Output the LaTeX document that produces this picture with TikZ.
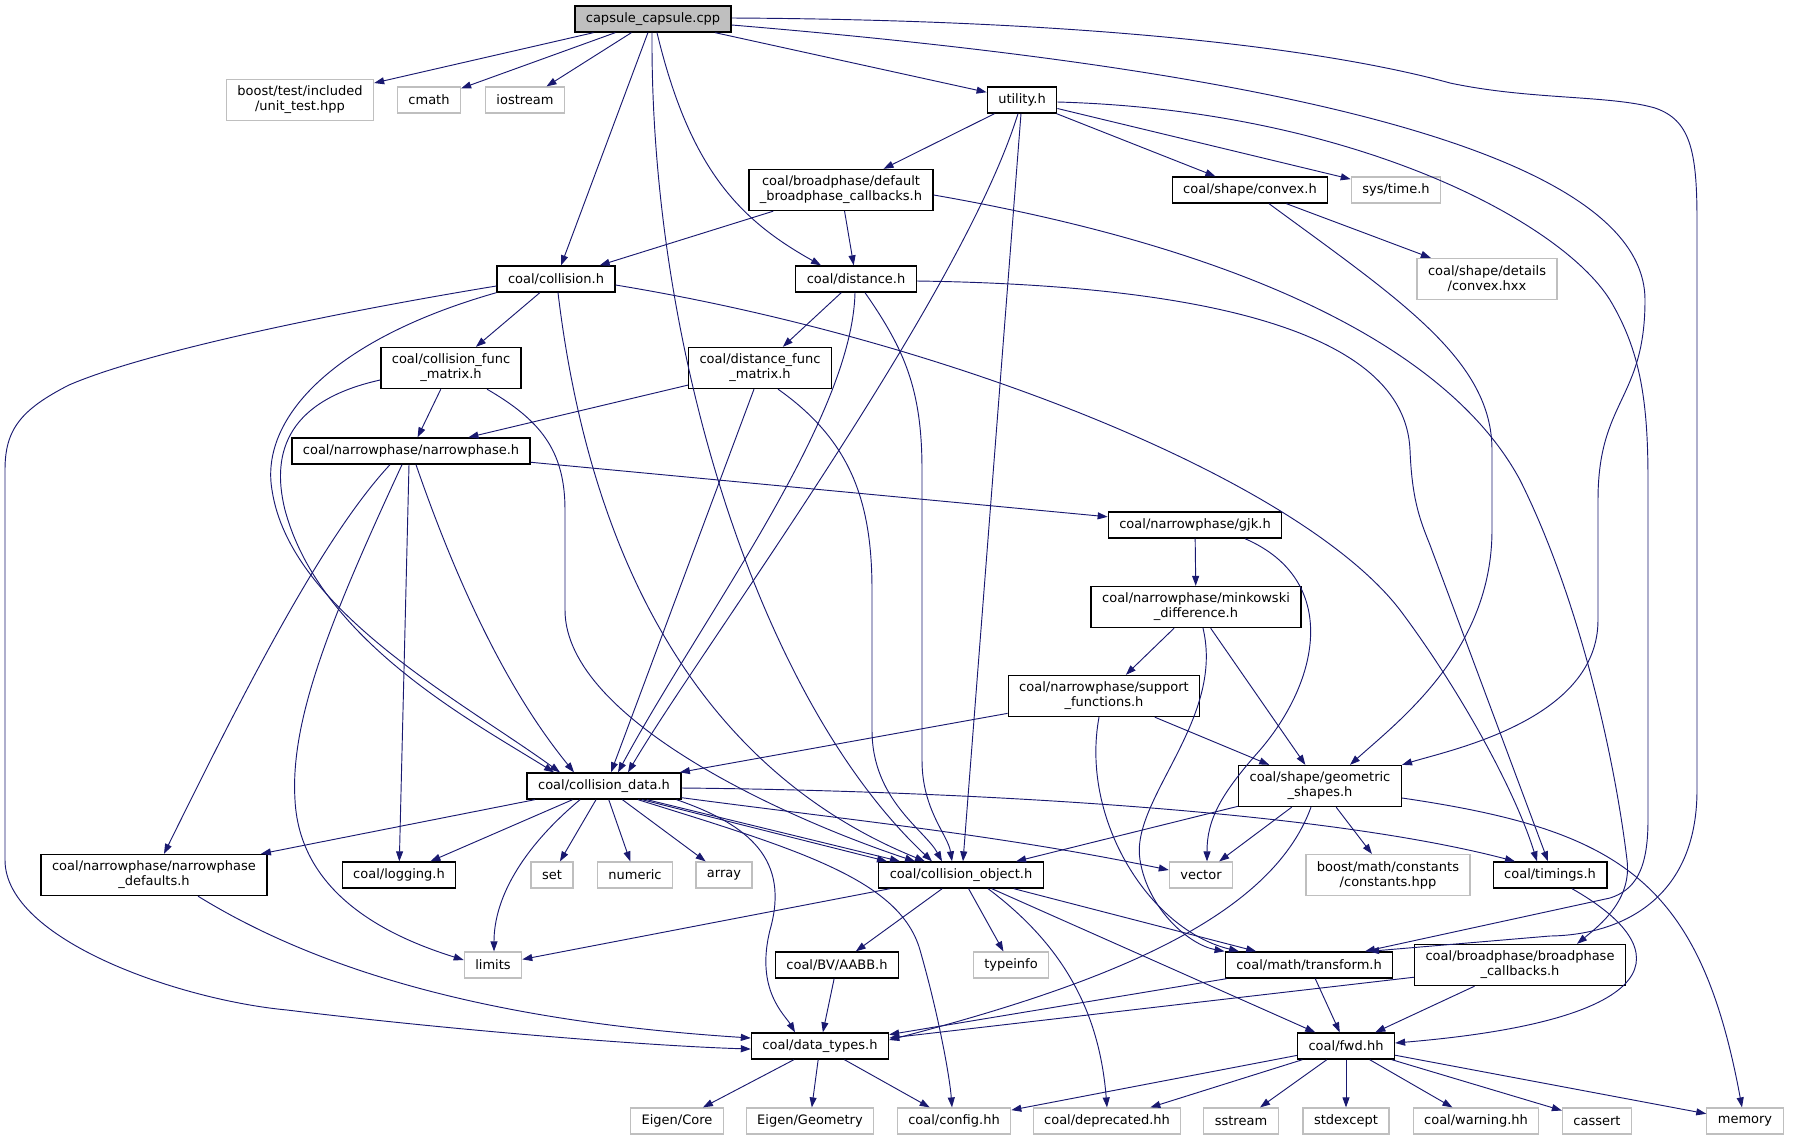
\documentclass[tikz,border=0pt]{standalone}
\usepackage{fontspec}
\setmainfont{DejaVu Sans}
\usetikzlibrary{arrows.meta, calc}
\definecolor{edgeblue}{RGB}{25,25,112}
\definecolor{sysgray}{RGB}{191,191,191}
\tikzset{
  hdrnode/.style = {rectangle, draw=black, line width=1pt, fill=white, align=center, inner xsep=8.25pt, inner ysep=1pt, minimum height=19.5pt, font=\fontsize{9.75}{11.25}\selectfont},
  sysnode/.style = {hdrnode, draw=sysgray, line width=0.9pt},
  rootnode/.style = {hdrnode, fill=sysgray},
  twoline/.style = {minimum height=30.75pt},
  inc/.style = {draw=edgeblue, line width=0.7pt, -{Triangle[length=7.5pt,width=5.25pt]}}
}
\begin{document}
\begin{tikzpicture}[x=0.75pt, y=-0.75pt]
    \useasboundingbox (0,0) rectangle (1793,1140);
    \node[rootnode] (capsule) at (653,19) {capsule\_capsule.cpp};
    \node[sysnode, twoline] (boost) at (300,100) {boost/test/included\\/unit\_test.hpp};
    \node[sysnode] (cmath) at (429,100) {cmath};
    \node[sysnode] (iostream) at (525,100) {iostream};
    \node[hdrnode] (utility) at (1022,100) {utility.h};
    \node[hdrnode, twoline] (defcb) at (841,190) {coal/broadphase/default\\\_broadphase\_callbacks.h};
    \node[hdrnode] (convex) at (1250,190) {coal/shape/convex.h};
    \node[sysnode] (systime) at (1396,190) {sys/time.h};
    \node[sysnode, twoline] (convexhxx) at (1487,279) {coal/shape/details\\/convex.hxx};
    \node[hdrnode] (collision) at (556,279) {coal/collision.h};
    \node[hdrnode] (distance) at (856,279) {coal/distance.h};
    \node[hdrnode, twoline] (collfunc) at (451,368) {coal/collision\_func\\\_matrix.h};
    \node[hdrnode, twoline] (distfunc) at (760,368) {coal/distance\_func\\\_matrix.h};
    \node[hdrnode] (narrow) at (411,451) {coal/narrowphase/narrowphase.h};
    \node[hdrnode] (gjk) at (1195,525) {coal/narrowphase/gjk.h};
    \node[hdrnode, twoline] (mink) at (1196,607) {coal/narrowphase/minkowski\\\_difference.h};
    \node[hdrnode, twoline] (support) at (1104,696) {coal/narrowphase/support\\\_functions.h};
    \node[hdrnode] (colldata) at (604,786) {coal/collision\_data.h};
    \node[hdrnode, twoline] (geom) at (1320,786) {coal/shape/geometric\\\_shapes.h};
    \node[hdrnode, twoline] (npdef) at (154,875) {coal/narrowphase/narrowphase\\\_defaults.h};
    \node[hdrnode] (logging) at (399,875) {coal/logging.h};
    \node[sysnode] (set) at (552,875) {set};
    \node[sysnode] (numeric) at (635,875) {numeric};
    \node[sysnode] (array) at (724,875) {array};
    \node[hdrnode] (collobj) at (961,875) {coal/collision\_object.h};
    \node[sysnode] (vector) at (1201,875) {vector};
    \node[sysnode, twoline] (constants) at (1388,875) {boost/math/constants\\/constants.hpp};
    \node[hdrnode] (timings) at (1550,875) {coal/timings.h};
    \node[sysnode] (limits) at (493,965) {limits};
    \node[hdrnode] (aabb) at (837,965) {coal/BV/AABB.h};
    \node[sysnode] (typeinfo) at (1011,965) {typeinfo};
    \node[hdrnode] (transform) at (1309,965) {coal/math/transform.h};
    \node[hdrnode, twoline] (bpcb) at (1520,965) {coal/broadphase/broadphase\\\_callbacks.h};
    \node[hdrnode] (datatypes) at (820,1046) {coal/data\_types.h};
    \node[hdrnode] (fwd) at (1346,1046) {coal/fwd.hh};
    \node[sysnode] (eigencore) at (677,1121) {Eigen/Core};
    \node[sysnode] (eigengeom) at (810,1121) {Eigen/Geometry};
    \node[sysnode] (config) at (954,1121) {coal/config.hh};
    \node[sysnode] (deprecated) at (1107,1121) {coal/deprecated.hh};
    \node[sysnode] (sstream) at (1241,1121) {sstream};
    \node[sysnode] (stdexcept) at (1346,1121) {stdexcept};
    \node[sysnode] (warning) at (1476,1121) {coal/warning.hh};
    \node[sysnode] (cassert) at (1597,1121) {cassert};
    \node[sysnode] (memory) at (1745,1121) {memory};

    % capsule_capsule.cpp
    \draw[inc] (capsule) -- (boost);
    \draw[inc] (capsule) -- (cmath);
    \draw[inc] (capsule) -- (iostream);
    \draw[inc] (capsule) -- (collision);
    \draw[inc] (capsule) -- (utility);
    \draw[inc] ($(capsule.south)+(-1,0)$) .. controls (650,350) and (760,700) .. ($(collobj.north)+(-29,0)$);
    \draw[inc] ($(capsule.south)+(4,0)$) .. controls (690,170) and (740,220) .. ($(distance.north)+(-35,0)$);
    \draw[inc] ($(capsule.east)+(0,6)$) .. controls (1150,60) and (1645,130) .. (1645,300) .. controls (1645,400) and (1598,400) .. (1598,500) -- (1598,620) .. controls (1598,720) and (1450,750) .. (geom.north east);
    \draw[inc] ($(capsule.east)+(0,-1)$) .. controls (1100,20) and (1330,50) .. (1450,83) .. controls (1530,100) and (1610,95) .. (1655,108) .. controls (1690,120) and (1697,150) .. (1697,220) -- (1697,790) .. controls (1697,900) and (1620,935) .. (1550,936) -- ($(transform.north)+(60,0)$);

    % utility.h
    \draw[inc] (utility) -- (defcb);
    \draw[inc] (utility) -- (convex);
    \draw[inc] (utility) -- (systime);
    \draw[inc] ($(utility.south)+(-4,0)$) .. controls (960,300) and (700,650) .. ($(colldata.north)+(24,0)$);
    \draw[inc] ($(utility.south)+(-1,0)$) -- ($(collobj.north)+(2,0)$);
    \draw[inc] ($(utility.east)+(0,2)$) .. controls (1350,110) and (1560,220) .. (1610,300) .. controls (1640,350) and (1648,400) .. (1648,480) -- (1648,820) .. controls (1648,870) and (1635,890) .. (1610,898) -- ($(transform.north)+(56,0)$);

    % default broadphase callbacks, convex
    \draw[inc] (defcb) -- (collision);
    \draw[inc] (defcb) -- (distance);
    \draw[inc] ($(defcb.east)+(0,5)$) .. controls (1250,250) and (1450,350) .. (1520,480) .. controls (1580,600) and (1615,760) .. (1627,860) .. controls (1632,900) and (1600,925) .. ($(bpcb.north)+(57,0)$);
    \draw[inc] (convex) -- (convexhxx);
    \draw[inc] ($(convex.south)+(19,0)$) .. controls (1400,300) and (1492,360) .. (1492,450) -- (1492,530) .. controls (1492,650) and (1400,720) .. ($(geom.north)+(30,0)$);

    % collision.h
    \draw[inc] (collision) -- (collfunc);
    \draw[inc] (collision.south west) .. controls (330,340) and (260,420) .. (272,490) .. controls (290,610) and (460,700) .. ($(colldata.north)+(-44,0)$);
    \draw[inc] ($(collision.south)+(2,0)$) .. controls (590,560) and (700,770) .. ($(collobj.north)+(-36,0)$);
    \draw[inc] ($(collision.west)+(0,7)$) .. controls (350,310) and (150,350) .. (69,385) .. controls (20,410) and (5,430) .. (5,470) -- (5,860) .. controls (5,940) and (180,1000) .. (287,1010) .. controls (450,1030) and (650,1046) .. ($(datatypes.west)+(0,3)$);
    \draw[inc] ($(collision.east)+(0,6)$) .. controls (950,340) and (1300,480) .. (1400,610) .. controls (1460,690) and (1515,790) .. ($(timings.north)+(-13,0)$);

    % distance.h
    \draw[inc] (distance) -- (distfunc);
    \draw[inc] ($(distance.south)+(-1,0)$) .. controls (852,420) and (700,620) .. ($(colldata.north)+(14,0)$);
    \draw[inc] ($(distance.south)+(9,0)$) .. controls (905,350) and (922,390) .. (922,470) -- (922,760) .. controls (922,810) and (948,835) .. ($(collobj.north)+(-9,0)$);
    \draw[inc] ($(distance.east)+(0,2)$) .. controls (1200,285) and (1405,330) .. (1410,450) .. controls (1412,500) and (1420,520) .. (1430,545) -- ($(timings.north)+(-2,0)$);

    % func matrices
    \draw[inc] (collfunc) -- (narrow);
    \draw[inc] ($(collfunc.west)+(0,12)$) .. controls (290,400) and (270,450) .. (285,510) .. controls (320,640) and (470,720) .. ($(colldata.north)+(-50,0)$);
    \draw[inc] ($(collfunc.south)+(36,0)$) .. controls (540,420) and (565,450) .. (565,510) -- (565,610) .. controls (565,720) and (790,820) .. ($(collobj.north)+(-46,0)$);
    \draw[inc] (distfunc) -- (narrow);
    \draw[inc] ($(distfunc.south)+(-6,0)$) -- ($(colldata.north)+(7,0)$);
    \draw[inc] ($(distfunc.south)+(18,0)$) .. controls (850,440) and (872,500) .. (872,590) -- (872,730) .. controls (872,800) and (925,830) .. ($(collobj.north)+(-19,0)$);

    % narrowphase
    \draw[inc] (narrow) -- (gjk);
    \draw[inc] ($(narrow.south)+(-21,0)$) .. controls (320,540) and (240,700) .. ($(npdef.north)+(10,0)$);
    \draw[inc] ($(narrow.south)+(-9,0)$) .. controls (330,620) and (290,720) .. (295,800) .. controls (300,900) and (400,940) .. ($(limits.west)+(0,-5)$);
    \draw[inc] ($(narrow.south)+(-2,0)$) -- (logging);
    \draw[inc] ($(narrow.south)+(5,0)$) .. controls (480,650) and (540,730) .. ($(colldata.north)+(-30,0)$);
    \draw[inc] (gjk) -- (mink);
    \draw[inc] ($(gjk.south)+(50,0)$) .. controls (1340,580) and (1320,680) .. (1260,750) .. controls (1220,795) and (1207,820) .. ($(vector.north)+(6,0)$);
    \draw[inc] (mink) -- (support);
    \draw[inc] (mink) -- (geom);
    \draw[inc] ($(mink.south)+(7,0)$) .. controls (1225,720) and (1130,800) .. (1140,860) .. controls (1148,910) and (1190,945) .. (transform.north west);
    \draw[inc] (support) -- (colldata);
    \draw[inc] (support) -- (geom);
    \draw[inc] ($(support.south)+(-5,0)$) .. controls (1080,820) and (1150,930) .. ($(transform.north)+(-70,0)$);

    % collision_data.h
    \draw[inc] (colldata) -- (npdef);
    \draw[inc] (colldata) -- (logging);
    \draw[inc] ($(colldata.south)+(-24,0)$) .. controls (520,850) and (494,900) .. ($(limits.north)+(1,0)$);
    \draw[inc] (colldata) -- (set);
    \draw[inc] (colldata) -- (numeric);
    \draw[inc] (colldata) -- (array);
    \draw[inc] ($(colldata.south)+(38,0)$) -- ($(collobj.north)+(-74,0)$);
    \draw[inc] ($(colldata.south)+(43,0)$) -- ($(collobj.north)+(-61,0)$);
    \draw[inc] ($(colldata.south east)+(-5,0)$) .. controls (750,825) and (790,860) .. (770,930) .. controls (755,990) and (785,1015) .. ($(datatypes.north)+(-25,0)$);
    \draw[inc] ($(colldata.south)+(34,0)$) .. controls (800,850) and (900,880) .. (920,950) .. controls (940,1020) and (950,1080) .. ($(config.north)+(-2,0)$);
    \draw[inc] ($(colldata.south east)+(0,-2)$) .. controls (850,820) and (1000,835) .. ($(vector.west)+(0,-5)$);
    \draw[inc] ($(colldata.east)+(0,2)$) .. controls (900,790) and (1300,805) .. ($(timings.north)+(-35,0)$);

    % geometric_shapes.h
    \draw[inc] (geom) -- (collobj);
    \draw[inc] (geom) -- (vector);
    \draw[inc] (geom) -- (constants);
    \draw[inc] ($(geom.east)+(0,12)$) .. controls (1620,830) and (1700,880) .. ($(memory.north)+(-3,0)$);
    \draw[inc] ($(geom.south)+(-9,0)$) .. controls (1270,920) and (1100,985) .. ($(datatypes.east)+(0,-6)$);

    % collision_object.h
    \draw[inc] (collobj) -- (limits);
    \draw[inc] (collobj) -- (aabb);
    \draw[inc] (collobj) -- (typeinfo);
    \draw[inc] ($(collobj.south)+(27,0)$) .. controls (1070,950) and (1100,1020) .. (deprecated.north);
    \draw[inc] (collobj) -- (fwd);
    \draw[inc] (collobj) -- (transform);

    % bottom rows
    \draw[inc] (aabb) -- (datatypes);
    \draw[inc] (transform) -- (datatypes);
    \draw[inc] (transform) -- (fwd);
    \draw[inc] (bpcb) -- (datatypes);
    \draw[inc] (bpcb) -- (fwd);
    \draw[inc] ($(timings.south)+(22,0)$) .. controls (1680,950) and (1670,1020) .. ($(fwd.east)+(0,-3)$);
    \draw[inc] ($(npdef.south)+(44,0)$) .. controls (350,990) and (550,1025) .. ($(datatypes.west)+(0,-8)$);
    \draw[inc] (datatypes) -- (eigencore);
    \draw[inc] (datatypes) -- (eigengeom);
    \draw[inc] (datatypes) -- (config);
    \draw[inc] (fwd) -- (config);
    \draw[inc] (fwd) -- (deprecated);
    \draw[inc] (fwd) -- (sstream);
    \draw[inc] (fwd) -- (stdexcept);
    \draw[inc] (fwd) -- (warning);
    \draw[inc] (fwd) -- (cassert);
    \draw[inc] (fwd) -- (memory);
\end{tikzpicture}
\end{document}
